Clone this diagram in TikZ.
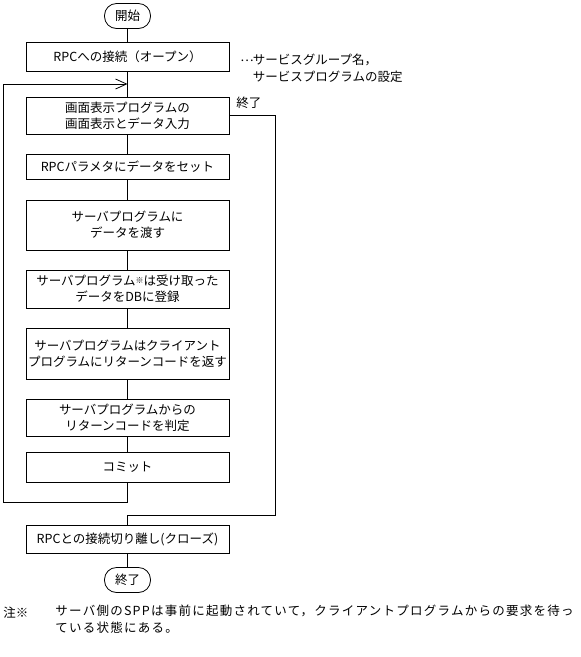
\documentclass[tikz,border=0pt]{standalone}
\usepackage{fontspec}
\setmainfont{Noto Sans CJK JP}
\usetikzlibrary{arrows.meta}
\begin{document}
\begin{tikzpicture}[x=1pt,y=-1pt,line width=0.8pt,
  procbox/.style={draw,rectangle,minimum width=203pt,inner sep=1pt,align=center,font=\fontsize{12.5}{16}\selectfont},
  termbox/.style={draw,rectangle,rounded corners=12pt,minimum width=46pt,minimum height=25pt,inner sep=1pt,font=\fontsize{12.5}{16}\selectfont},
  lbl/.style={inner sep=0pt,align=left,font=\fontsize{12.5}{16.5}\selectfont},
  barb/.style={-{Straight Barb[length=11pt,width=10pt]}}]
\useasboundingbox (0,0) rectangle (581,657);
\node[termbox] (start) at (127.5,16) {開始};
\node[procbox,minimum height=29pt] (b1) at (127.5,57) {RPCへの接続（オープン）};
\node[procbox,minimum height=37pt] (b2) at (127.5,115.5) {画面表示プログラムの\\画面表示とデータ入力};
\node[procbox,minimum height=25pt] (b3) at (127.5,166.5) {RPCパラメタにデータをセット};
\node[procbox,minimum height=50pt] (b4) at (127.5,225) {サーバプログラムに\\データを渡す};
\node[procbox,minimum height=38pt] (b5) at (127.5,289) {サーバプログラム\raisebox{2pt}{\fontsize{8}{8}\selectfont ※}は受け取った\\データをDBに登録};
\node[procbox,minimum height=51pt] (b6) at (127.5,353.5) {サーバプログラムはクライアント\\プログラムにリターンコードを返す};
\node[procbox,minimum height=37pt] (b7) at (127.5,417.5) {サーバプログラムからの\\リターンコードを判定};
\node[procbox,minimum height=30pt] (b8) at (127.5,467) {コミット};
\node[procbox,minimum height=28pt] (b9) at (127.5,539) {RPCとの接続切り離し(クローズ)};
\node[termbox] (stop) at (127.5,580) {終了};

\node[lbl,anchor=west] (ann) at (240,68.5) {\makebox[12.5pt][l]{\raisebox{3.5pt}{…}}サービスグループ名，\\\hphantom{あ}サービスプログラムの設定};
\node[lbl,anchor=west] (endlbl) at (236,103) {終了};

\coordinate (j1) at (127.5,84);
\coordinate (l1) at (127.5,502);
\coordinate (l2) at (3,502);
\coordinate (l3) at (3,84);
\coordinate (r1) at (275,115.5);
\coordinate (r2) at (275,515);
\coordinate (r3) at (127.5,515);

\draw (start) -- (b1);
\draw (b1) -- (b2);
\draw (b2) -- (b3);
\draw (b3) -- (b4);
\draw (b4) -- (b5);
\draw (b5) -- (b6);
\draw (b6) -- (b7);
\draw (b7) -- (b8);
\draw[barb] (b8.south) -- (l1) -- (l2) -- (l3) -- (j1);
\draw (b2.east) -- (r1) -- (r2) -- (r3) -- (b9.north);
\draw (b9) -- (stop);

\node[lbl,anchor=west] (notemark) at (3,613) {注※};
\node[lbl,anchor=north west] (note) at (55,605) {\addfontfeatures{LetterSpace=10}サーバ側のSPPは事前に起動されていて，クライアントプログラムからの要求を待っ\\\addfontfeatures{LetterSpace=10}ている状態にある。};
\end{tikzpicture}
\end{document}
